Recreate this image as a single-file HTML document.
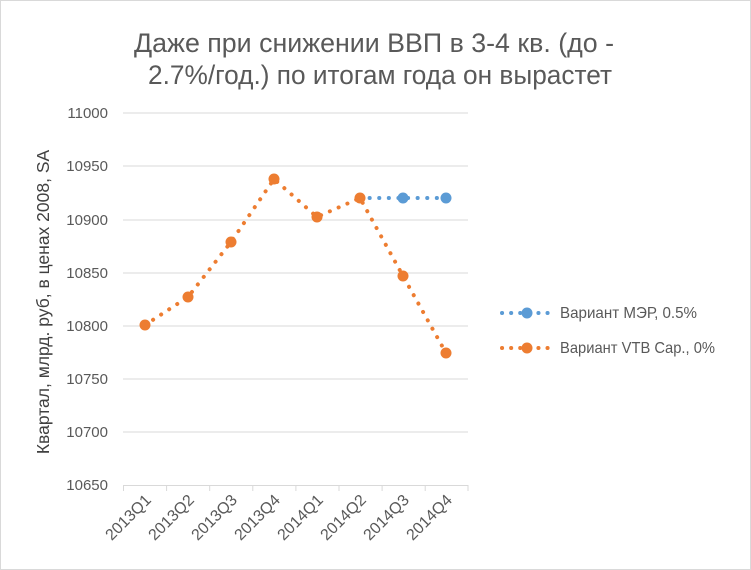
<!DOCTYPE html>
<html><head><meta charset="utf-8"><style>
body{margin:0;background:#fff}
svg{display:block;font-family:"Liberation Sans",sans-serif}
</style></head><body>
<svg width="751" height="570" viewBox="0 0 751 570">
<rect x="0.5" y="0.5" width="750" height="569" fill="#fff" stroke="#d9d9d9"/>
<text x="374" y="52" font-size="26.5" fill="#595959" text-anchor="middle" textLength="480" lengthAdjust="spacingAndGlyphs">Даже при снижении ВВП в 3-4 кв. (до -</text>
<text x="380" y="84" font-size="26.5" fill="#595959" text-anchor="middle" textLength="464" lengthAdjust="spacingAndGlyphs">2.7%/год.) по итогам года он вырастет</text>
<g stroke="#d9d9d9" stroke-width="1">
<line x1="123" x2="468" y1="113" y2="113"/>
<line x1="123" x2="468" y1="166" y2="166"/>
<line x1="123" x2="468" y1="220" y2="220"/>
<line x1="123" x2="468" y1="273" y2="273"/>
<line x1="123" x2="468" y1="326" y2="326"/>
<line x1="123" x2="468" y1="379" y2="379"/>
<line x1="123" x2="468" y1="432" y2="432"/>
<line x1="123" x2="468" y1="485.5" y2="485.5"/>
<line x1="123.5" x2="123.5" y1="485" y2="491"/>
<line x1="166.6" x2="166.6" y1="485" y2="491"/>
<line x1="209.7" x2="209.7" y1="485" y2="491"/>
<line x1="252.8" x2="252.8" y1="485" y2="491"/>
<line x1="295.9" x2="295.9" y1="485" y2="491"/>
<line x1="339" x2="339" y1="485" y2="491"/>
<line x1="382.1" x2="382.1" y1="485" y2="491"/>
<line x1="425.2" x2="425.2" y1="485" y2="491"/>
<line x1="468" x2="468" y1="485" y2="491"/>
</g>
<g font-size="15" fill="#595959" text-anchor="end">
<text x="108" y="118">11000</text>
<text x="108" y="171">10950</text>
<text x="108" y="225">10900</text>
<text x="108" y="278">10850</text>
<text x="108" y="331">10800</text>
<text x="108" y="384">10750</text>
<text x="108" y="437">10700</text>
<text x="108" y="490">10650</text>
</g>
<g font-size="16" fill="#595959" text-anchor="end">
<text transform="translate(152,501) rotate(-45)">2013Q1</text>
<text transform="translate(195,501) rotate(-45)">2013Q2</text>
<text transform="translate(238,501) rotate(-45)">2013Q3</text>
<text transform="translate(281,501) rotate(-45)">2013Q4</text>
<text transform="translate(324,501) rotate(-45)">2014Q1</text>
<text transform="translate(367,501) rotate(-45)">2014Q2</text>
<text transform="translate(410,501) rotate(-45)">2014Q3</text>
<text transform="translate(453,501) rotate(-45)">2014Q4</text>
</g>
<text transform="translate(49,302) rotate(-90)" font-size="17.5" fill="#404040" text-anchor="middle">Квартал, млрд. руб, в ценах 2008, SA</text>
<polyline points="360,198 403,198 446,198" fill="none" stroke="#5b9bd5" stroke-width="4" stroke-dasharray="0.1 9.5" stroke-linecap="round"/>
<polyline points="145,325 188,297 231,242 274,179 317,217 360,198 403,276 446,353" fill="none" stroke="#ed7d31" stroke-width="4" stroke-dasharray="0.1 9.5" stroke-linecap="round"/>
<g fill="#5b9bd5"><circle cx="403" cy="198" r="5.5"/><circle cx="446" cy="198" r="5.5"/></g>
<g fill="#ed7d31">
<circle cx="145" cy="325" r="5.5"/><circle cx="188" cy="297" r="5.5"/><circle cx="231" cy="242" r="5.5"/><circle cx="274" cy="179" r="5.5"/><circle cx="317" cy="217" r="5.5"/><circle cx="360" cy="198" r="5.5"/><circle cx="403" cy="276" r="5.5"/><circle cx="446" cy="353" r="5.5"/>
</g>
<line x1="502" x2="552" y1="313" y2="313" stroke="#5b9bd5" stroke-width="4" stroke-dasharray="0.1 9" stroke-linecap="round"/>
<circle cx="527" cy="313" r="5.5" fill="#5b9bd5"/>
<text x="560" y="318" font-size="16" fill="#595959" textLength="137" lengthAdjust="spacingAndGlyphs">Вариант МЭР, 0.5%</text>
<line x1="502" x2="552" y1="348" y2="348" stroke="#ed7d31" stroke-width="4" stroke-dasharray="0.1 9" stroke-linecap="round"/>
<circle cx="527" cy="348" r="5.5" fill="#ed7d31"/>
<text x="560" y="353" font-size="16" fill="#595959" textLength="155" lengthAdjust="spacingAndGlyphs">Вариант VTB Cap., 0%</text>
</svg>
</body></html>
